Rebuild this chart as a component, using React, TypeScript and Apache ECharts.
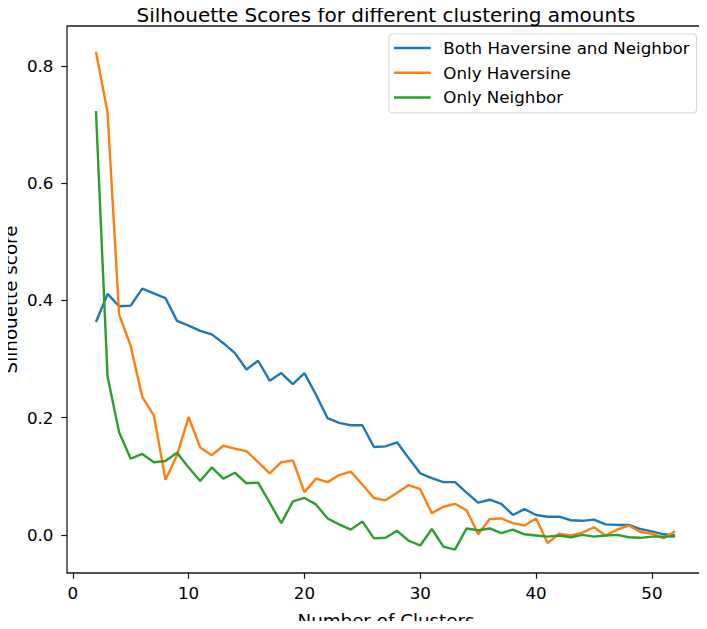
import React, { useEffect, useRef } from "react";
import * as echarts from "echarts";

const clusters: number[] = Array.from({ length: 51 }, (_, i) => i + 2);

const bothHaversineNeighbor: number[] = [
  0.363, 0.411, 0.390, 0.391, 0.420, 0.412, 0.404, 0.365, 0.357, 0.348,
  0.342, 0.327, 0.310, 0.282, 0.297, 0.263, 0.276, 0.257, 0.276, 0.239,
  0.199, 0.191, 0.187, 0.187, 0.150, 0.151, 0.158, 0.131, 0.105, 0.097,
  0.090, 0.090, 0.072, 0.055, 0.060, 0.053, 0.034, 0.044, 0.034, 0.031,
  0.031, 0.025, 0.024, 0.026, 0.018, 0.017, 0.017, 0.010, 0.006, 0.001,
  -0.001,
];

const onlyHaversine: number[] = [
  0.824, 0.721, 0.376, 0.322, 0.235, 0.204, 0.094, 0.136, 0.201, 0.149,
  0.136, 0.152, 0.147, 0.143, 0.124, 0.105, 0.124, 0.127, 0.073, 0.096,
  0.090, 0.102, 0.108, 0.086, 0.063, 0.059, 0.072, 0.085, 0.078, 0.037,
  0.048, 0.053, 0.042, 0.001, 0.027, 0.028, 0.020, 0.016, 0.028, -0.014,
  0.002, -0.001, 0.004, 0.013, -0.001, 0.009, 0.016, 0.005, 0.002, -0.006,
  0.006,
];

const onlyNeighbor: number[] = [
  0.723, 0.270, 0.175, 0.130, 0.138, 0.124, 0.126, 0.140, 0.115, 0.092,
  0.115, 0.096, 0.106, 0.088, 0.089, 0.055, 0.020, 0.057, 0.063, 0.052,
  0.028, 0.018, 0.009, 0.023, -0.006, -0.005, 0.007, -0.010, -0.018, 0.010,
  -0.020, -0.025, 0.011, 0.008, 0.011, 0.003, 0.009, 0.001, -0.001, -0.003,
  -0.001, -0.004, 0.000, -0.003, -0.001, 0.000, -0.004, -0.005, -0.003, -0.003,
  -0.003,
];

const xTicks: number[] = [0, 10, 20, 30, 40, 50];
const yTicks: number[] = [0, 0.2, 0.4, 0.6, 0.8];

const seriesNames: string[] = [
  "Both Haversine and Neighbor",
  "Only Haversine",
  "Only Neighbor",
];
const seriesColors: string[] = ["#1f77b4", "#ff7f0e", "#2ca02c"];

const xAxisTitle = "Number of Clusters";
const yAxisTitle = "Silhouette score";

const FONT = "DejaVu Sans";

export default function App() {
  const ref = useRef<HTMLDivElement>(null);

  useEffect(() => {
    if (!ref.current) return;
    const chart = echarts.init(ref.current, null, { renderer: "svg" });
    const allData = [bothHaversineNeighbor, onlyHaversine, onlyNeighbor];
    chart.setOption({
      animation: false,
      backgroundColor: "#ffffff",
      title: {
        text: "Silhouette Scores for different clustering amounts",
        left: 386,
        textAlign: "center",
        top: 4,
        padding: 0,
        textStyle: {
          fontFamily: FONT,
          fontSize: 20,
          fontWeight: "normal",
          color: "#000",
          lineHeight: 22,
        },
      },
      graphic: [
        {
          type: "text",
          x: 386,
          y: 620,
          style: {
            text: xAxisTitle,
            fontFamily: FONT,
            fontSize: 18.3,
            fill: "#000",
            align: "center",
            verticalAlign: "middle",
          },
        },
        {
          type: "text",
          x: 10,
          y: 299.5,
          rotation: Math.PI / 2,
          style: {
            text: yAxisTitle,
            fontFamily: FONT,
            fontSize: 18.3,
            fill: "#000",
            align: "center",
            verticalAlign: "middle",
          },
        },
      ],
      legend: {
        orient: "vertical",
        left: 389,
        top: 34,
        padding: [4.5, 7, 6, 5],
        itemGap: 5.7,
        itemWidth: 36.7,
        itemHeight: 2.5,
        icon: "rect",
        borderColor: "#d6d6d6",
        borderWidth: 1,
        borderRadius: 3,
        data: seriesNames,
        textStyle: {
          fontFamily: FONT,
          fontSize: 16.7,
          color: "#000",
          padding: [0, 0, 0, 7.6],
          lineHeight: 19,
        },
      },
      grid: {
        left: 67,
        right: 3,
        top: 26,
        bottom: 56,
        show: true,
        borderColor: "#1a1a1a",
        borderWidth: 1.3,
        containLabel: false,
        outerBoundsMode: "none",
      },
      xAxis: {
        type: "value",
        min: -0.5,
        max: 54.5,
        axisLine: { show: false, onZero: false },
        axisTick: {
          show: true,
          length: 5.8,
          customValues: xTicks,
          lineStyle: { color: "#1a1a1a", width: 1.2 },
        },
        axisLabel: {
          customValues: xTicks,
          fontFamily: FONT,
          fontSize: 16.7,
          color: "#000",
          margin: 11,
          formatter: (v: number) => String(v),
        },
        splitLine: { show: false },
      },
      yAxis: {
        type: "value",
        min: -0.065,
        max: 0.868,
        axisLine: { show: false, onZero: false },
        axisTick: {
          show: true,
          length: 5.8,
          customValues: yTicks,
          lineStyle: { color: "#1a1a1a", width: 1.2 },
        },
        axisLabel: {
          customValues: yTicks,
          fontFamily: FONT,
          fontSize: 16.7,
          color: "#000",
          margin: 13.5,
          formatter: (v: number) => v.toFixed(1),
        },
        splitLine: { show: false },
      },
      series: seriesNames.map((name, i) => ({
        name,
        type: "line",
        data: clusters.map((c, j) => [c, allData[i][j]]),
        showSymbol: false,
        symbol: "none",
        lineStyle: { color: seriesColors[i], width: 2.4 },
        itemStyle: { color: seriesColors[i] },
        z: 2 + i,
      })),
    });
    return () => chart.dispose();
  }, []);

  return <div ref={ref} style={{ width: 707, height: 629, margin: -8 }} />;
}
